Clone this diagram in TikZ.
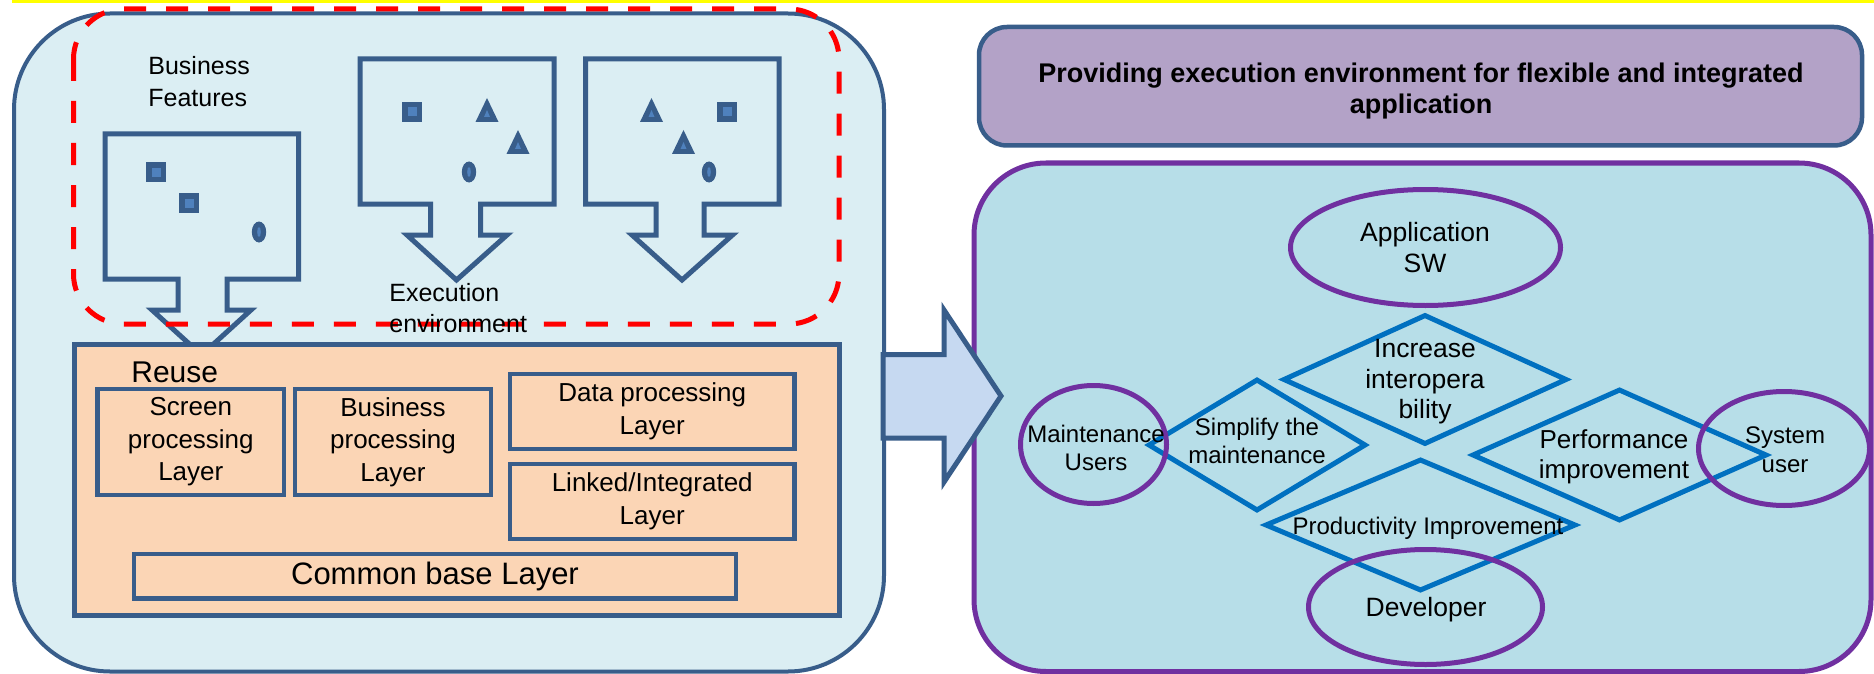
\documentclass[tikz,border=0pt]{standalone}
\usepackage{fontspec}
\setmainfont{Liberation Sans}
\usetikzlibrary{shapes.geometric}
\definecolor{panelblue}{RGB}{219,238,243}
\definecolor{sborder}{RGB}{56,93,138}
\definecolor{peach}{RGB}{251,213,181}
\definecolor{lav}{RGB}{179,162,199}
\definecolor{rpanel}{RGB}{183,222,232}
\definecolor{purp}{RGB}{112,48,160}
\definecolor{dblue}{RGB}{0,112,192}
\definecolor{arrowfill}{RGB}{198,217,241}
\definecolor{shapelight}{RGB}{79,129,189}
\definecolor{topyellow}{RGB}{255,255,0}
\tikzset{
  lbl/.style={inner sep=0pt, align=center, text=black},
  layerbox/.style={rectangle, draw=sborder, line width=2.25pt, fill=peach, inner sep=0pt, align=center, font=\fontsize{13}{16.25}\selectfont},
  goal/.style={diamond, draw=dblue, line width=2.5pt, inner sep=0pt, line join=miter},
  actor/.style={ellipse, draw=purp, line width=2.5pt, inner sep=0pt},
  blockarrow/.style={draw=sborder, line width=2.5pt, fill=panelblue, line join=miter},
  sqmark/.pic={\fill[sborder] (-10,-10) rectangle (10,10); \fill[shapelight] (-4.5,-4.5) rectangle (4.5,4.5);},
  trimark/.pic={\fill[sborder] (0,0) -- (11.5,24) -- (-11.5,24) -- cycle; \fill[shapelight] (0,12) -- (3,19) -- (-3,19) -- cycle;},
  elmark/.pic={\fill[sborder] (0,0) ellipse [x radius=3.6pt, y radius=5.25pt]; \fill[shapelight] (0,0) ellipse [x radius=0.9pt, y radius=2.5pt];},
}
\begin{document}
\begin{tikzpicture}[x=0.5pt,y=-0.5pt]
\useasboundingbox (0,0) rectangle (1874,674);
\fill[white] (0,0) rectangle (1874,674);
% yellow bar
\path[fill=topyellow] (12,0) rectangle (1874,3.5);

% ---------- left panel ----------
\draw[sborder, line width=2pt, fill=panelblue, rounded corners=48pt] (14,13.5) rectangle (884,671.5);

% block arrows
\draw[blockarrow] (105,134) -- (298.5,134) -- (298.5,279) -- (227,279) -- (227,310) -- (251,310) -- (201.5,355) -- (152,310) -- (178,310) -- (178,279) -- (105,279) -- cycle;
\draw[blockarrow] (360,59) -- (554,59) -- (554,204) -- (480.5,204) -- (480.5,235) -- (507,235) -- (456.5,280) -- (407,235) -- (430.5,235) -- (430.5,204) -- (360,204) -- cycle;
\draw[blockarrow] (585.5,59) -- (779,59) -- (779,204) -- (704,204) -- (704,235) -- (732.5,235) -- (682,280) -- (632,235) -- (656,235) -- (656,204) -- (585.5,204) -- cycle;

% marks
\pic at (156,172) {sqmark};
\pic at (189,203) {sqmark};
\pic at (259,232) {elmark};
\pic at (412,112) {sqmark};
\pic at (487,98) {trimark};
\pic at (518,130) {trimark};
\pic at (469,172) {elmark};
\pic at (651.5,98) {trimark};
\pic at (727,112) {sqmark};
\pic at (683.5,130) {trimark};
\pic at (709,172) {elmark};

% red dashed region
\draw[red, line width=2.5pt, dash pattern=on 11pt off 10pt, rounded corners=25pt] (73.5,9) rectangle (839,324);

\node[lbl, anchor=west, align=left, font=\fontsize{12.5}{16}\selectfont] (bf) at (148,82) {Business\\Features};
\node[lbl, anchor=west, align=left, font=\fontsize{12.5}{15.5}\selectfont] (ee) at (389,308.5) {Execution\\environment};

% reuse box
\draw[sborder, line width=2.5pt, fill=peach] (74,344) rectangle (839,615);
\node[lbl, anchor=base west, font=\fontsize{15}{18}\selectfont] (reuse) at (131,382) {Reuse};

\node[layerbox, minimum width=93.2pt, minimum height=52.9pt] (screen) at (190.8,441.85) {Screen\\processing\\Layer};
\node[layerbox, minimum width=98pt, minimum height=52.9pt] (bizp) at (393,441.85) {Business\\processing\\Layer};
\node[layerbox, minimum width=142.25pt, minimum height=37.5pt] (data) at (652.25,411.5) {Data processing\\Layer};
\node[layerbox, minimum width=142.25pt, minimum height=37.5pt] (linked) at (652.25,501.5) {Linked/Integrated\\Layer};
\node[layerbox, minimum width=301pt, minimum height=22.35pt, font=\fontsize{15.5}{18}\selectfont] (common) at (435,576.3) {Common base Layer};

% ---------- right side ----------
\draw[sborder, line width=2.25pt, fill=lav, rounded corners=14pt] (979,27) rectangle (1862,145.5);
\node[lbl, font=\bfseries\fontsize{13.5}{15.5}\selectfont] (title) at (1421,90.7) {Providing execution environment for flexible and integrated\\application};

\draw[purp, line width=2.5pt, fill=rpanel, rounded corners=36pt] (974,163) rectangle (1871,671.5);

% big arrow
\draw[draw=sborder, line width=2.5pt, fill=arrowfill, line join=miter] (883,354.5) -- (944,354.5) -- (944,310) -- (1001,396) -- (944,482) -- (944,438) -- (883,438) -- cycle;

% goals (diamonds)
\node[goal, minimum width=142pt, minimum height=65pt] (inc) at (1425,379.5) {};
\node[goal, minimum width=109pt, minimum height=66pt] (simp) at (1257,445) {};
\node[goal, minimum width=147.5pt, minimum height=66pt] (perf) at (1619.5,455) {};
\node[goal, minimum width=155.5pt, minimum height=66pt] (prod) at (1420.5,525) {};

% actors (ellipses)
\node[actor, minimum width=135pt, minimum height=58pt] (app) at (1425.5,247.5) {};
\node[actor, minimum width=73pt, minimum height=59pt] (maint) at (1093.5,444.5) {};
\node[actor, minimum width=85.5pt, minimum height=57pt] (sys) at (1784,448.5) {};
\node[actor, minimum width=117pt, minimum height=57.5pt] (dev) at (1425.5,607) {};

% texts
\node[lbl, font=\fontsize{13.25}{15.5}\selectfont] (tapp) at (1425,248) {Application\\SW};
\node[lbl, font=\fontsize{13.25}{15.25}\selectfont] (tinc) at (1425,382) {Increase\\interopera\\bility};
\node[lbl, font=\fontsize{12}{14}\selectfont] (tmaint) at (1096,447.5) {Maintenance\\Users};
\node[lbl, font=\fontsize{12}{14}\selectfont] (tsimp) at (1257,440.5) {Simplify the\\maintenance};
\node[lbl, font=\fontsize{13}{15}\selectfont] (tperf) at (1614,456.8) {Performance\\improvement};
\node[lbl, font=\fontsize{12}{14.5}\selectfont] (tsys) at (1785,449.5) {System\\user};
\node[lbl, font=\fontsize{12}{14}\selectfont] (tprod) at (1428,528.5) {Productivity Improvement};
\node[lbl, font=\fontsize{13.25}{15.5}\selectfont] (tdev) at (1426,610) {Developer};
\end{tikzpicture}
\end{document}
